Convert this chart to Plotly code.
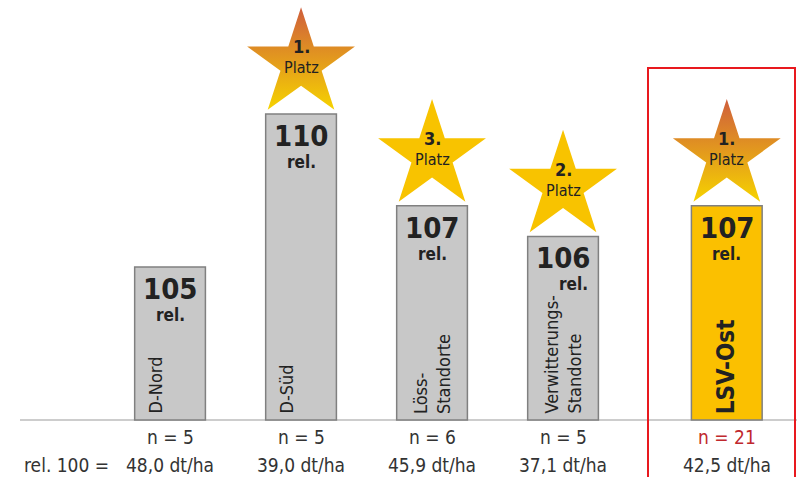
import plotly.graph_objects as go

# ---- data ----
categories = ["D-Nord", "D-Süd", "Löss-<br>Standorte", "Verwitterungs-<br>Standorte", "LSV-Ost"]
rel_values = [105, 110, 107, 106, 107]
ranks = [None, 1, 3, 2, 1]
n_counts = [5, 5, 6, 5, 21]
base_yields = ["48,0", "39,0", "45,9", "37,1", "42,5"]
x_pos = [0, 1, 2, 3, 4.25]
highlight = [False, False, False, False, True]

W, H = 797, 477
Y0, Y1 = 98.137, 113.725
X0, X1 = -1.298, 4.786
PXU = H / (Y1 - Y0)  # pixels per y unit

FONT = "Liberation Sans Narrow, DejaVu Sans Condensed, Arial Narrow, sans-serif"
NUMFONT = "DejaVu Sans Condensed, Liberation Sans Narrow, sans-serif"
DARK = "#222222"

fig = go.Figure()

bar_colors = ["#FBC000" if h else "#C8C8C8" for h in highlight]
fig.add_trace(go.Bar(
    x=x_pos, y=[v - 100 for v in rel_values], base=100, width=0.54,
    marker=dict(color=bar_colors, line=dict(color="#808080", width=1.5)),
    hoverinfo="skip", showlegend=False,
))

star_off = 50 / PXU
gx = [x for x, r in zip(x_pos, ranks) if r == 1]
gy = [v + star_off for v, r in zip(rel_values, ranks) if r == 1]
px_ = [x for x, r in zip(x_pos, ranks) if r and r != 1]
py_ = [v + star_off for v, r in zip(rel_values, ranks) if r and r != 1]

fig.add_trace(go.Scatter(
    x=gx, y=gy, mode="markers", hoverinfo="skip", showlegend=False,
    marker=dict(symbol="star", size=81, color="#CF5E3C",
                gradient=dict(type="vertical", color="#F6D300"),
                line=dict(width=0)),
))
fig.add_trace(go.Scatter(
    x=px_, y=py_, mode="markers", hoverinfo="skip", showlegend=False,
    marker=dict(symbol="star", size=81, color="#F8C300", line=dict(width=0)),
))

ann = []
for x, v, r, c, n, b, h in zip(x_pos, rel_values, ranks, categories, n_counts, base_yields, highlight):
    # value labels
    ann.append(dict(x=x, y=v, yref="y", text=f"<b>{v}</b>", showarrow=False,
                    yanchor="middle", yshift=-22,
                    font=dict(family=NUMFONT, size=29, color=DARK)))
    ann.append(dict(x=x, y=v, yref="y", text="<b>rel.</b>", showarrow=False,
                    yanchor="middle", yshift=-48, xshift=(10 if v == 106 else 0),
                    font=dict(family=FONT, size=17, color=DARK)))
    # category inside bar
    two = "<br>" in c
    ann.append(dict(x=x, y=100, yref="y", text=(f"<b>{c}</b>" if h else c), showarrow=False,
                    textangle=-90, yanchor="bottom", yshift=4, align="left",
                    xshift=(0 if (two or h) else -15),
                    font=dict(family=FONT, size=(24 if h else 18), color=DARK)))
    # star text
    if r:
        sy = v + star_off
        ann.append(dict(x=x, y=sy, yref="y", text=f"<b>{r}.</b>", showarrow=False,
                        yanchor="middle", yshift=17, borderpad=0,
                        font=dict(family=FONT, size=18, color=DARK)))
        ann.append(dict(x=x, y=sy, yref="y", text="Platz", showarrow=False,
                        yanchor="middle", yshift=-4, borderpad=0,
                        font=dict(family=FONT, size=16, color=DARK)))
    # bottom lines
    ann.append(dict(x=x, y=1 - 437 / H, yref="paper", text=f"n = {n}", showarrow=False,
                    yanchor="middle",
                    font=dict(family=FONT, size=19, color=("#C0282D" if h else "#333333"))))
    ann.append(dict(x=x, y=1 - 465 / H, yref="paper", text=f"{b} dt/ha", showarrow=False,
                    yanchor="middle",
                    font=dict(family=FONT, size=19, color="#333333")))

ann.append(dict(x=22 / W, xref="paper", xanchor="left", y=1 - 465 / H, yref="paper",
                text="rel. 100 =", showarrow=False, yanchor="middle",
                font=dict(family=FONT, size=19, color="#333333")))

shapes = [
    dict(type="line", xref="paper", yref="y", x0=20 / W, x1=1, y0=100, y1=100,
         line=dict(color="#BDBDBD", width=1.5), layer="below"),
    dict(type="rect", xref="paper", yref="paper", x0=648 / W, x1=795 / W,
         y0=-0.05, y1=1 - 68 / H, line=dict(color="#E8191E", width=2)),
]

fig.update_layout(
    width=W, height=H, margin=dict(l=0, r=0, t=0, b=0),
    paper_bgcolor="white", plot_bgcolor="white",
    xaxis=dict(range=[X0, X1], visible=False, fixedrange=True),
    yaxis=dict(range=[Y0, Y1], visible=False, fixedrange=True),
    annotations=ann, shapes=shapes, showlegend=False,
)

fig.write_html("out.html", config={"displayModeBar": False},
               post_script="document.body.style.margin='0px';document.body.style.overflow='hidden';")
